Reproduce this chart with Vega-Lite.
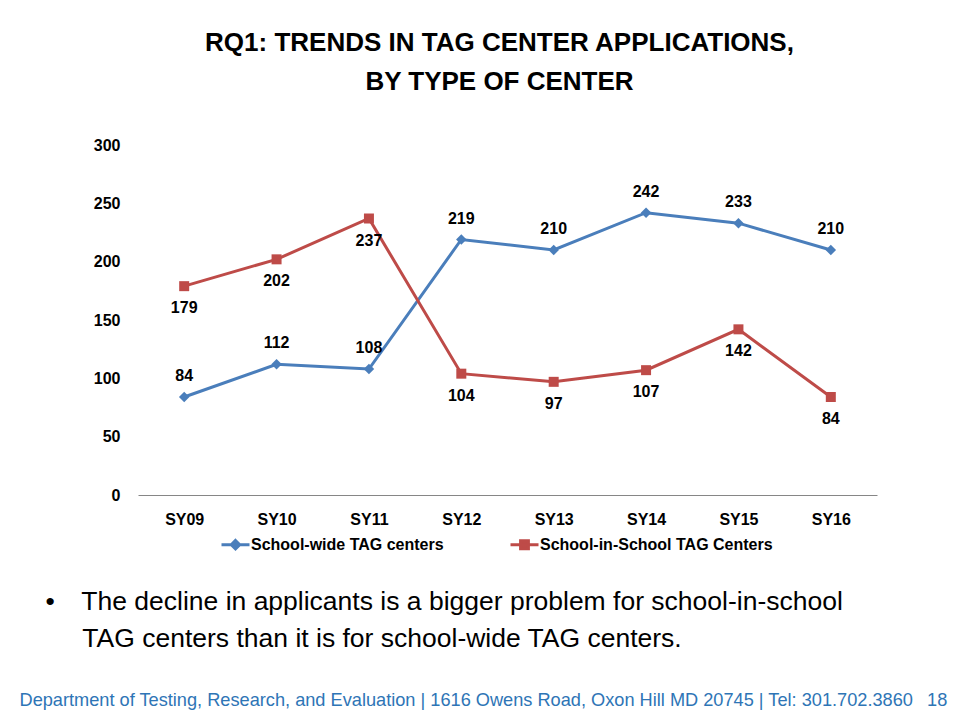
{
  "$schema": "https://vega.github.io/schema/vega-lite/v6.json",
  "width": 739,
  "height": 350,
  "autosize": {"type": "none"},
  "padding": {"left": 138, "top": 145, "right": 80, "bottom": 226},
  "background": "white",
  "config": {
    "view": {"stroke": null},
    "font": "Liberation Sans"
  },
  "title": {
    "text": ["RQ1: TRENDS IN TAG CENTER APPLICATIONS,", "BY TYPE OF CENTER"],
    "anchor": "middle",
    "frame": "group",
    "font": "Liberation Sans",
    "fontSize": 26,
    "fontWeight": "bold",
    "color": "#000000",
    "lineHeight": 39,
    "dx": -8,
    "offset": 42
  },
  "data": {
    "values": [
      {"year": "SY09", "series": "School-wide TAG centers", "value": 84},
      {"year": "SY10", "series": "School-wide TAG centers", "value": 112},
      {"year": "SY11", "series": "School-wide TAG centers", "value": 108},
      {"year": "SY12", "series": "School-wide TAG centers", "value": 219},
      {"year": "SY13", "series": "School-wide TAG centers", "value": 210},
      {"year": "SY14", "series": "School-wide TAG centers", "value": 242},
      {"year": "SY15", "series": "School-wide TAG centers", "value": 233},
      {"year": "SY16", "series": "School-wide TAG centers", "value": 210},
      {"year": "SY09", "series": "School-in-School TAG Centers", "value": 179},
      {"year": "SY10", "series": "School-in-School TAG Centers", "value": 202},
      {"year": "SY11", "series": "School-in-School TAG Centers", "value": 237},
      {"year": "SY12", "series": "School-in-School TAG Centers", "value": 104},
      {"year": "SY13", "series": "School-in-School TAG Centers", "value": 97},
      {"year": "SY14", "series": "School-in-School TAG Centers", "value": 107},
      {"year": "SY15", "series": "School-in-School TAG Centers", "value": 142},
      {"year": "SY16", "series": "School-in-School TAG Centers", "value": 84}
    ]
  },
  "encoding": {
    "x": {
      "field": "year",
      "type": "ordinal",
      "sort": null,
      "axis": {
        "labelAngle": 0,
        "labelFont": "Liberation Sans",
        "labelFontSize": 16,
        "labelFontWeight": "bold",
        "labelColor": "#000000",
        "labelPadding": 16,
        "ticks": false,
        "domainColor": "#868686",
        "domainWidth": 1,
        "grid": false,
        "title": ["\u2022\u2003The decline in applicants is a bigger problem for school-in-school", "\u200b\u00a0\u00a0\u00a0\u00a0\u00a0TAG centers than it is for school-wide TAG centers."],
        "titleX": -93,
        "titleY": 114,
        "titleAlign": "left",
        "titleAnchor": null,
        "titleBaseline": "alphabetic",
        "titleFont": "Liberation Sans",
        "titleFontSize": 26.5,
        "titleFontWeight": "normal",
        "titleColor": "#000000",
        "titleLineHeight": 37
      }
    },
    "y": {
      "field": "value",
      "type": "quantitative",
      "scale": {"domain": [0, 300]},
      "axis": {
        "values": [0, 50, 100, 150, 200, 250, 300],
        "labelFont": "Liberation Sans",
        "labelFontSize": 16,
        "labelFontWeight": "bold",
        "labelColor": "#000000",
        "labelPadding": 18,
        "ticks": false,
        "domain": false,
        "grid": false,
        "title": "Department of Testing, Research, and Evaluation | 1616 Owens Road, Oxon Hill MD 20745  | Tel: 301.702.3860\u2002 18",
        "titleAngle": 0,
        "titleX": -119,
        "titleY": 560,
        "titleAlign": "left",
        "titleAnchor": null,
        "titleBaseline": "alphabetic",
        "titleFont": "Liberation Sans",
        "titleFontSize": 18.2,
        "titleFontWeight": "normal",
        "titleColor": "#2E75B6"
      }
    },
    "color": {
      "field": "series",
      "type": "nominal",
      "sort": null,
      "scale": {
        "domain": ["School-wide TAG centers", "School-in-School TAG Centers"],
        "range": ["#4A7EBB", "#BE4B48"]
      },
      "legend": {
        "orient": "none",
        "legendX": 82,
        "legendY": 384,
        "direction": "horizontal",
        "title": null,
        "labelFont": "Liberation Sans",
        "labelFontSize": 16,
        "labelFontWeight": "bold",
        "labelColor": "#000000",
        "labelLimit": 400,
        "labelOffset": 0,
        "columnPadding": 60,
        "symbolSize": 784,
        "symbolStrokeWidth": 3,
        "encode": {
          "symbols": {
            "update": {
              "shape": {"signal": "datum.value === 'School-wide TAG centers' ? 'M-1,0H1M0,-0.3L0.3,0L0,0.3L-0.3,0Z' : 'M-1,0H1M-0.28,-0.28H0.28V0.28H-0.28Z'"},
              "fill": {"scale": "color", "field": "value"},
              "stroke": {"scale": "color", "field": "value"},
              "strokeWidth": {"value": 3},
              "opacity": {"value": 1}
            }
          }
        }
      }
    }
  },
  "layer": [
    {
      "mark": {"type": "line", "strokeWidth": 3}
    },
    {
      "transform": [{"filter": "datum.series === 'School-wide TAG centers'"}],
      "mark": {"type": "point", "filled": true, "opacity": 1, "size": 110, "shape": "diamond"}
    },
    {
      "transform": [{"filter": "datum.series === 'School-in-School TAG Centers'"}],
      "mark": {"type": "point", "filled": true, "opacity": 1, "size": 100, "shape": "square"}
    },
    {
      "transform": [{"filter": "datum.series === 'School-wide TAG centers'"}],
      "mark": {"type": "text", "dy": -21, "fontSize": 16, "fontWeight": "bold", "font": "Liberation Sans", "color": "#000000", "baseline": "middle"},
      "encoding": {
        "text": {"field": "value", "type": "quantitative"},
        "color": {"value": "#000000"}
      }
    },
    {
      "transform": [{"filter": "datum.series === 'School-in-School TAG Centers'"}],
      "mark": {"type": "text", "dy": 22, "fontSize": 16, "fontWeight": "bold", "font": "Liberation Sans", "color": "#000000", "baseline": "middle"},
      "encoding": {
        "text": {"field": "value", "type": "quantitative"},
        "color": {"value": "#000000"}
      }
    }
  ]
}
